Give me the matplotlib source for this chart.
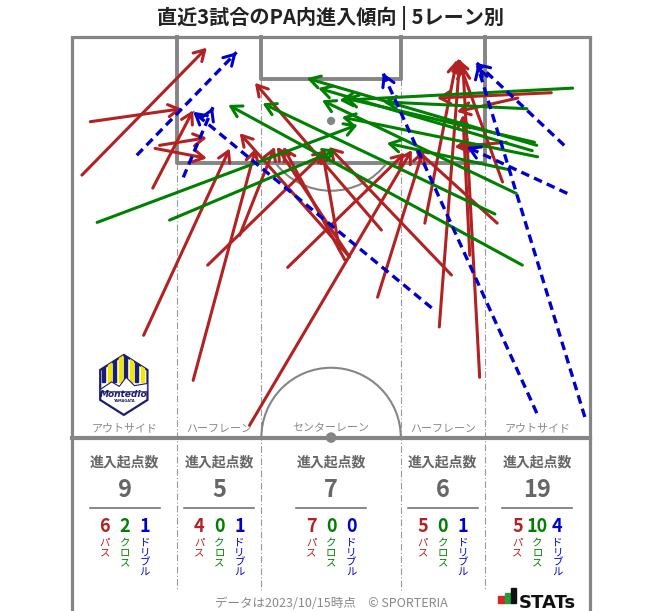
import matplotlib
matplotlib.use('Agg')
import matplotlib.pyplot as plt
import numpy as np
from matplotlib.patches import Arc, Polygon, Rectangle, Circle

plt.rcParams['font.family'] = ['Noto Sans CJK JP', 'DejaVu Sans']

# ---------------- data ----------------
title = '直近3試合のPA内進入傾向 | 5レーン別'
lane_names = ['アウトサイド', 'ハーフレーン', 'センターレーン', 'ハーフレーン', 'アウトサイド']
lane_edges = [0.0, 13.84, 24.84, 43.16, 54.16, 68.0]
entry_totals = [9, 5, 7, 6, 19]
pass_counts = [6, 4, 7, 5, 5]
cross_counts = [2, 0, 0, 0, 10]
dribble_counts = [1, 1, 0, 1, 4]
type_labels = ['パス', 'クロス', 'ドリブル']
footer = 'データは2023/10/15時点　© SPORTERIA'

# entries (metres: x from left touchline, y from goal line)
pass_x0 = [1.3, 2.4, 10.6, 10.9, 11.5, 9.4, 15.9, 17.8, 23.3, 22.0, 36.4, 36.4, 35.8, 28.3,
           40.1, 40.6, 35.1, 48.2, 53.5, 46.3, 49.8, 52.2, 62.9, 57.0, 56.5, 55.8, 58.5]
pass_y0 = [18.1, 11.1, 19.8, 14.6, 14.2, 39.1, 45.0, 29.9, 50.9, 26.0, 28.8, 28.8, 29.2, 30.2,
           34.1, 25.3, 27.9, 38.0, 44.6, 24.4, 31.2, 28.6, 7.3, 13.8, 19.0, 24.4, 8.0]
pass_x1 = [17.7, 14.4, 15.9, 17.7, 17.7, 20.7, 24.1, 33.4, 44.6, 26.6, 22.0, 26.9, 27.7, 43.7,
           46.1, 24.0, 32.8, 50.9, 51.3, 50.5, 33.7, 51.3, 47.9, 50.2, 50.6, 45.0, 50.5]
pass_y1 = [1.4, 9.4, 9.6, 15.9, 13.2, 14.6, 14.6, 14.8, 14.8, 14.4, 12.6, 14.4, 14.4, 15.2,
           14.8, 6.0, 14.6, 2.8, 3.7, 3.0, 14.4, 10.2, 8.0, 14.4, 2.8, 14.6, 9.8]

cross_x0 = [3.3, 12.8, 65.7, 59.7, 61.0, 60.7, 61.1, 57.4, 58.3, 55.5, 59.1, 60.4]
cross_y0 = [24.3, 24.0, 6.7, 9.4, 14.2, 13.8, 15.7, 17.4, 20.5, 23.2, 29.9, 14.9]
cross_x1 = [37.5, 34.7, 35.1, 40.8, 30.8, 35.8, 35.4, 41.3, 32.8, 25.0, 20.5, 32.3]
cross_y1 = [11.5, 14.8, 8.3, 8.5, 5.4, 8.0, 10.5, 13.9, 8.3, 8.7, 8.9, 6.7]

drib_x0 = [8.5, 14.6, 47.2, 64.6, 65.0, 67.3, 61.0]
drib_y0 = [15.5, 18.4, 35.5, 14.2, 20.5, 49.8, 49.3]
drib_x1 = [21.6, 18.5, 15.9, 53.1, 51.8, 53.2, 40.8]
drib_y1 = [2.0, 9.2, 9.8, 3.4, 14.4, 3.7, 4.7]

# ---------------- style ----------------
RED, GREEN, BLUE = '#b22222', '#008000', '#0000cd'
type_colors = [RED, GREEN, BLUE]
LINE = '#858585'
TXT = '#666666'

fig = plt.figure(figsize=(6.63, 6.11), dpi=100)
ax = fig.add_axes([0, 0, 1, 1])
ax.set_xlim(-9.45, 77.56)
ax.set_ylim(75.23, -4.85)
ax.axis('off')

W, H = 68.0, 52.5
# outer frame
ax.plot([0, 0], [0, 75.3], color=LINE, lw=2.3, solid_capstyle='butt', zorder=2)
ax.plot([W, W], [0, 75.3], color=LINE, lw=2.3, solid_capstyle='butt', zorder=2)
ax.plot([0, W], [0, 0], color=LINE, lw=2.3, zorder=2)
ax.plot([0, W], [H, H], color=LINE, lw=3.0, zorder=2)
# penalty area & goal area
pa_l, pa_r = lane_edges[1], lane_edges[4]
ga_l, ga_r = lane_edges[2], lane_edges[3]
ax.plot([pa_l, pa_l, pa_r, pa_r], [0, 16.5, 16.5, 0], color=LINE, lw=2.8, zorder=2)
ax.plot([ga_l, ga_l, ga_r, ga_r], [0, 5.5, 5.5, 0], color=LINE, lw=2.8, zorder=2)
ax.add_patch(Circle((34, 11), 0.45, color=LINE, zorder=2))
ax.add_patch(Circle((34, H), 0.6, color=LINE, zorder=3))
# D arc and center circle
ang = np.degrees(np.arccos(5.5 / 9.15))
ax.add_patch(Arc((34, 11), 18.3, 18.3, theta1=90 - ang, theta2=90 + ang, color=LINE, lw=1.5, zorder=2))
ax.add_patch(Arc((34, H), 18.3, 18.3, theta1=180, theta2=360, color=LINE, lw=1.5, zorder=2))
# lane dividers
for xe in lane_edges[1:-1]:
    ax.plot([xe, xe], [16.5 if xe in (pa_l, pa_r) else 5.5, 72.5], color='#999999',
            lw=0.8, linestyle=(0, (6, 2, 1, 2)), zorder=1)

centers = [(lane_edges[i] + lane_edges[i + 1]) / 2 for i in range(5)]
for cx, name in zip(centers, lane_names):
    ax.text(cx, 51.3, name, ha='center', va='center', fontsize=7.9, color='#888888', zorder=5)

# ---------------- arrows ----------------
HEAD = '->,head_length=0.6,head_width=0.35'

def solid_arrow(x0, y0, x1, y1, c):
    ax.annotate('', xy=(x1, y1), xytext=(x0, y0),
                arrowprops=dict(arrowstyle=HEAD, color=c, lw=2.2, shrinkA=0, shrinkB=0,
                                mutation_scale=12.5), zorder=4)

def dashed_arrow(x0, y0, x1, y1, c):
    ax.plot([x0, x1], [y0, y1], color=c, lw=2.4, linestyle=(0, (2.6, 1.6)),
            dash_capstyle='butt', zorder=4)
    d = np.hypot(x1 - x0, y1 - y0)
    ux, uy = (x1 - x0) / d, (y1 - y0) / d
    ax.annotate('', xy=(x1, y1), xytext=(x1 - ux * 0.6, y1 - uy * 0.6),
                arrowprops=dict(arrowstyle=HEAD, color=c, lw=2.2, shrinkA=0, shrinkB=0,
                                mutation_scale=12.5), zorder=4)

for a in zip(pass_x0, pass_y0, pass_x1, pass_y1):
    solid_arrow(*a, RED)
for a in zip(cross_x0, cross_y0, cross_x1, cross_y1):
    solid_arrow(*a, GREEN)
for a in zip(drib_x0, drib_y0, drib_x1, drib_y1):
    dashed_arrow(*a, BLUE)

# ---------------- table ----------------
for i, cx in enumerate(centers):
    ax.text(cx, 55.7, '進入起点数', ha='center', va='center', fontsize=10, fontweight='bold', color=TXT)
    ax.text(cx, 59.4, str(entry_totals[i]), ha='center', va='center', fontsize=17,
            fontweight='bold', color=TXT)
    ax.plot([cx - 4.6, cx + 4.6], [61.7, 61.7], color=TXT, lw=1.1)
    vals = [pass_counts[i], cross_counts[i], dribble_counts[i]]
    for j, (v, lab, col) in enumerate(zip(vals, type_labels, type_colors)):
        x = cx + (j - 1) * 2.62
        ax.text(x, 64.2, str(v), ha='center', va='center', fontsize=13, fontweight='bold', color=col)
        ax.text(x, 65.6, '\n'.join(lab), ha='center', va='top', fontsize=7.5, color=col,
                linespacing=1.0)

ax.text(34, 74.2, footer, ha='center', va='center', fontsize=9, color='#888888')

# STATs logo
ax.add_patch(Rectangle((55.9, 73.3), 0.9, 0.9, color='#d62828', zorder=5))
ax.add_patch(Rectangle((56.85, 72.9), 0.7, 1.3, color='#1f9e3a', zorder=5))
ax.add_patch(Rectangle((57.6, 72.2), 0.65, 2.0, color='#111111', zorder=5))
ax.text(58.6, 74.15, 'STATs', ha='left', va='center', fontsize=13, fontweight='bold',
        color='#111111', family='DejaVu Sans')

# Montedio emblem (simplified)
cx, cy, rx, ry = 6.8, 45.6, 3.1, 3.93
hexv = [(cx, cy - ry), (cx + rx, cy - ry / 2), (cx + rx, cy + ry / 2), (cx, cy + ry),
        (cx - rx, cy + ry / 2), (cx - rx, cy - ry / 2)]
hexp = Polygon(hexv, closed=True, facecolor='white', edgecolor='#1b1f6b', lw=1.6, zorder=5)
ax.add_patch(hexp)
for k in range(8):
    xs = cx - rx + 0.3 + k * 0.72
    bar = Rectangle((xs, cy - ry), 0.36, ry * 0.9,
                    color='#1b1f6b' if k % 2 == 0 else '#f2e600', zorder=6)
    ax.add_patch(bar)
    bar.set_clip_path(hexp)
mount = Polygon([(cx - rx, cy + 0.6), (cx - 1.6, cy - 0.4), (cx - 0.6, cy + 0.2), (cx + 0.3, cy - 1.0),
                 (cx + 1.4, cy + 0.1), (cx + rx, cy - 0.2), (cx + rx, cy + 0.9), (cx - rx, cy + 0.9)],
                closed=True, facecolor='white', edgecolor='#1b1f6b', lw=0.8, zorder=7)
ax.add_patch(mount)
mount.set_clip_path(hexp)
ax.text(cx, cy + 1.25, 'Montedio', ha='center', va='center', fontsize=6.5, fontweight='bold',
        fontstyle='italic', color='#1b1f6b', family='DejaVu Sans', zorder=8)
ax.text(cx, cy + 2.15, 'YAMAGATA', ha='center', va='center', fontsize=2.6, fontweight='bold',
        color='#1b1f6b', family='DejaVu Sans', zorder=8)

fig.text(0.498, 1 - 18 / 611, title, ha='center', va='center', fontsize=14.5, fontweight='bold',
         color='#222222')

fig.savefig('out.png', dpi=100, facecolor='white')
